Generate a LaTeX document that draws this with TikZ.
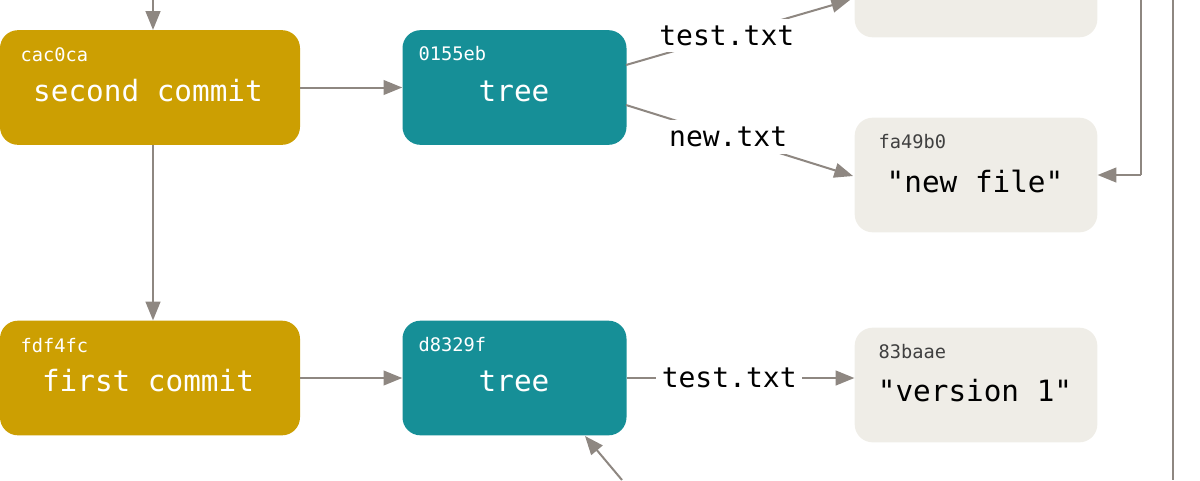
\documentclass[tikz,border=0pt]{standalone}
\usepackage{fontspec}
\setmonofont{DejaVu Sans Mono}
\usetikzlibrary{arrows.meta}
\definecolor{gold}{HTML}{CC9F02}
\definecolor{teal}{HTML}{168F97}
\definecolor{blob}{HTML}{EFEDE7}
\definecolor{ar}{HTML}{8E8781}
\begin{document}
\begin{tikzpicture}[x=0.75pt,y=-0.75pt,
 box/.style={rounded corners=13.5pt,draw=none,minimum width=168pt,minimum height=86pt,inner sep=0pt},
 commit/.style={box,fill=gold,minimum width=225pt},
 tree/.style={box,fill=teal},
 blob/.style={box,fill=blob,minimum width=182pt},
 hid/.style={font=\ttfamily\fontsize{14}{16}\selectfont,anchor=west},
 big/.style={font=\ttfamily\fontsize{22}{26}\selectfont},
 lab/.style={font=\ttfamily\fontsize{21}{25}\selectfont,text=black,fill=white,inner xsep=4pt,inner ysep=5pt},
 arr/.style={draw=ar,line width=1.5pt,-{Triangle[length=14pt,width=11pt]}},
 ln/.style={draw=ar,line width=1.5pt}]
\useasboundingbox (0,0) rectangle (1200,480);
\node[commit] (c2) at (150,87.5) {};
\node[hid,text=white] (c2i) at (16,55) {cac0ca};
\node[big,text=white] (c2t) at (148,91) {second commit};
\node[tree] (t2) at (514.5,87.5) {};
\node[hid,text=white] (t2i) at (414,54) {0155eb};
\node[big,text=white] (t2t) at (514,91) {tree};
\node[blob] (bt) at (976,-20) {};
\node[blob] (b2) at (976,175) {};
\node[hid,text=black!75] (b2i) at (874,142) {fa49b0};
\node[big,text=black] (b2t) at (975,181) {"new file"};
\node[commit] (c1) at (150,378) {};
\node[hid,text=white] (c1i) at (16,346) {fdf4fc};
\node[big,text=white] (c1t) at (148,381) {first commit};
\node[tree] (t1) at (514.5,378) {};
\node[hid,text=white] (t1i) at (414,345) {d8329f};
\node[big,text=white] (t1t) at (514,381) {tree};
\node[blob] (b1) at (976,385) {};
\node[hid,text=black!75] (b1i) at (874,352) {83baae};
\node[big,text=black] (b1t) at (975,391) {"version 1"};
\coordinate (top) at (153,0);
\draw[arr] (top) -- (c2.north -| top);
\draw[arr] (c2.south -| top) -- (c1.north -| top);
\draw[arr] (c2.east) -- (t2.west);
\draw[arr] (c1.east) -- (t1.west);
\coordinate (a1) at (626,65);
\coordinate (a2) at (850,0);
\draw[arr] (a1) -- node[lab,pos=0.45] (l1) {test.txt} (a2);
\coordinate (a3) at (626,105);
\coordinate (a4) at (853,176);
\draw[arr] (a3) -- node[lab,pos=0.45] (l2) {new.txt} (a4);
\draw[arr] (t1.east) -- node[lab,pos=0.45] (l3) {test.txt} (b1.west |- t1.east);
\coordinate (r1) at (1141,0);
\coordinate (r2) at (1141,175);
\draw[ln] (r1) -- (r2);
\draw[arr] (r2) -- (b2.east);
\coordinate (v1) at (1173,0);
\coordinate (v2) at (1173,480);
\draw[ln] (v1) -- (v2);
\coordinate (u1) at (622,480);
\draw[arr] (u1) -- (585,436);
\end{tikzpicture}
\end{document}
